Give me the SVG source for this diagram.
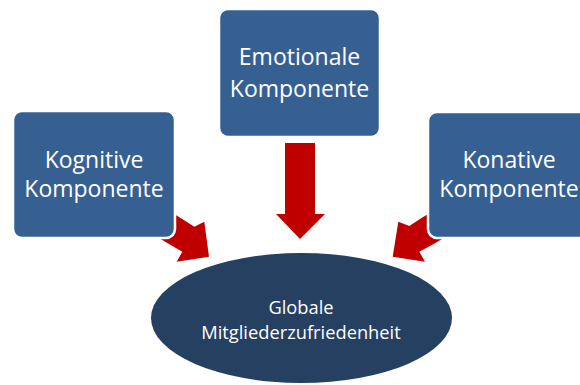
<svg xmlns="http://www.w3.org/2000/svg" width="580" height="385" viewBox="0 0 580 385">
<style>
.box{fill:#376092;stroke:#ffffff;stroke-width:2.5}
.arrow{fill:#C00000}
.t{font-family:"Open Sans","Liberation Sans",sans-serif;fill:#ffffff;text-anchor:middle}
.big{font-size:23px}
.small{font-size:18.3px}
</style>
<rect width="580" height="385" fill="#ffffff"/>
<g id="connectors">
<polygon class="arrow" points="285,143 315,143 315,214 325,214 300,239 276,214 285,214"/>
<polygon class="arrow" points="164,207.6 181,218.3 194.3,226.7 204.3,221.7 209,256.7 176.7,261.7 182.3,251.7 167.7,243.3 150.6,233"/>
<polygon class="arrow" points="439.7,207 422.7,217.3 409.3,226 398.3,221.7 392.7,256.7 425,261.7 419.3,251.7 435,243.3 452,233"/>
</g>
<g id="node-emotionale">
<rect class="box" x="219" y="9" width="161" height="128" rx="9"/>
<text class="t big" x="299.5" y="65">Emotionale</text>
<text class="t big" x="299.5" y="97">Komponente</text>
</g>
<g id="node-kognitive">
<rect class="box" x="13" y="111" width="162" height="127" rx="9"/>
<text class="t big" x="94" y="168">Kognitive</text>
<text class="t big" x="94" y="197">Komponente</text>
</g>
<g id="node-konative">
<rect class="box" x="428" y="112" width="162" height="126" rx="9"/>
<text class="t big" x="509" y="168">Konative</text>
<text class="t big" x="509" y="197">Komponente</text>
</g>
<g id="node-global">
<ellipse cx="301.5" cy="318" rx="150.5" ry="65" fill="#254061"/>
<text class="t small" x="301" y="314">Globale</text>
<text class="t small" x="301" y="339">Mitgliederzufriedenheit</text>
</g>
</svg>
